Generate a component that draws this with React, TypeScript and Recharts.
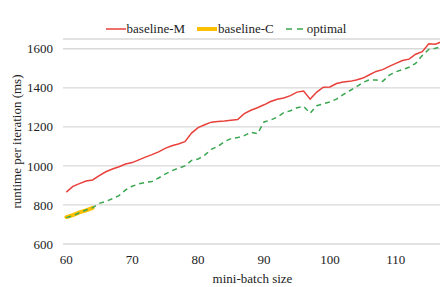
import * as React from "react";
import {CartesianGrid, Legend, Line, LineChart, XAxis, YAxis} from "recharts";

const batchSizes = [
    60, 61, 62, 63, 64, 65, 66, 67, 68, 69,
    70, 71, 72, 73, 74, 75, 76, 77, 78, 79,
    80, 81, 82, 83, 84, 85, 86, 87, 88, 89,
    90, 91, 92, 93, 94, 95, 96, 97, 98, 99,
    100, 101, 102, 103, 104, 105, 106, 107, 108, 109,
    110, 111, 112, 113, 114, 115, 116, 117,
];

const baselineM = [
    866, 895, 909, 923, 928, 950, 970, 984, 996, 1010,
    1017, 1031, 1045, 1058, 1072, 1090, 1103, 1112, 1124, 1168,
    1196, 1211, 1224, 1227, 1230, 1234, 1238, 1268, 1285, 1298,
    1313, 1330, 1341, 1348, 1360, 1378, 1383, 1342, 1378, 1403,
    1404, 1422, 1430, 1433, 1440, 1450, 1467, 1484, 1493, 1510,
    1525, 1540, 1547, 1572, 1585, 1626, 1623, 1637,
];

const baselineC = [738, 748, 762, 772, 785];

const optimal = [
    735, 745, 760, 774, 786, 808, 818, 832, 848, 877,
    896, 908, 915, 920, 938, 958, 975, 988, 1000, 1028,
    1035, 1055, 1085, 1100, 1125, 1140, 1145, 1155, 1172, 1165,
    1225, 1235, 1250, 1273, 1282, 1298, 1305, 1270, 1308, 1318,
    1328, 1342, 1365, 1385, 1405, 1428, 1441, 1440, 1433, 1465,
    1482, 1493, 1505, 1525, 1565, 1597, 1603, 1610,
];

const xTicks = [60, 70, 80, 90, 100, 110];
const yTicks = [600, 800, 1000, 1200, 1400, 1600];

const data = batchSizes.map((b, i) => ({
    batch: b,
    baselineM: baselineM[i],
    baselineC: i < baselineC.length ? baselineC[i] : null,
    optimal: optimal[i],
}));

const font = '"Liberation Serif", "Times New Roman", serif';
const RED = "#e8403a";
const YELLOW = "#ffc000";
const GREEN = "#3aa650";

function LegendBox() {
    const item = (label: string, color: string, width: number, dash?: string) => (
        <span style={{display: "inline-flex", alignItems: "center", marginRight: 12}}>
            <svg width={20} height={8} style={{marginRight: 1}}>
                <line x1={0} y1={4} x2={20} y2={4} stroke={color} strokeWidth={width} strokeDasharray={dash} strokeLinecap={width > 2 ? "round" : "butt"} />
            </svg>
            {label}
        </span>
    );
    return (
        <div style={{fontFamily: font, fontSize: 13, color: "#222", textAlign: "center", lineHeight: "16px", paddingLeft: 22}}>
            {item("baseline-M", RED, 1.5)}
            {item("baseline-C", YELLOW, 4)}
            {item("optimal", GREEN, 1.5, "6 5")}
        </div>
    );
}

export default function App() {
    return (
        <div style={{position: "absolute", left: 0, top: 0, width: 440, height: 287, overflow: "hidden", background: "#fff"}}>
            <LineChart width={442} height={287} data={data} margin={{top: 21, right: 0, left: 0, bottom: 0}}>
                <CartesianGrid vertical={false} stroke="#d9d9d9" strokeWidth={1.3} />
                <XAxis
                    dataKey="batch"
                    type="number"
                    domain={[59.5, 117]}
                    ticks={xTicks}
                    axisLine={false}
                    tickLine={false}
                    height={43}
                    tickMargin={5}
                    tick={{fontFamily: font, fontSize: 13, fill: "#222"}}
                    label={{value: "mini-batch size", position: "insideBottom", offset: 4, style: {fontFamily: font, fontSize: 13, fill: "#222"}}}
                />
                <YAxis
                    domain={[600, 1650]}
                    ticks={yTicks}
                    axisLine={false}
                    tickLine={false}
                    width={63}
                    tickMargin={4}
                    tick={{fontFamily: font, fontSize: 13, fill: "#222"}}
                    label={{value: "runtime per iteration (ms)", angle: -90, position: "center", dx: -15, style: {fontFamily: font, fontSize: 13, fill: "#222", textAnchor: "middle"}}}
                />
                <Legend verticalAlign="top" height={18} content={<LegendBox />} />
                <Line type="linear" dataKey="baselineM" name="baseline-M" stroke={RED} strokeWidth={1.5} dot={false} isAnimationActive={false} />
                <Line type="linear" dataKey="baselineC" name="baseline-C" stroke={YELLOW} strokeWidth={4} strokeLinecap="round" dot={false} isAnimationActive={false} />
                <Line type="linear" dataKey="optimal" name="optimal" stroke={GREEN} strokeWidth={1.5} strokeDasharray="5 4" dot={false} isAnimationActive={false} />
            </LineChart>
        </div>
    );
}
